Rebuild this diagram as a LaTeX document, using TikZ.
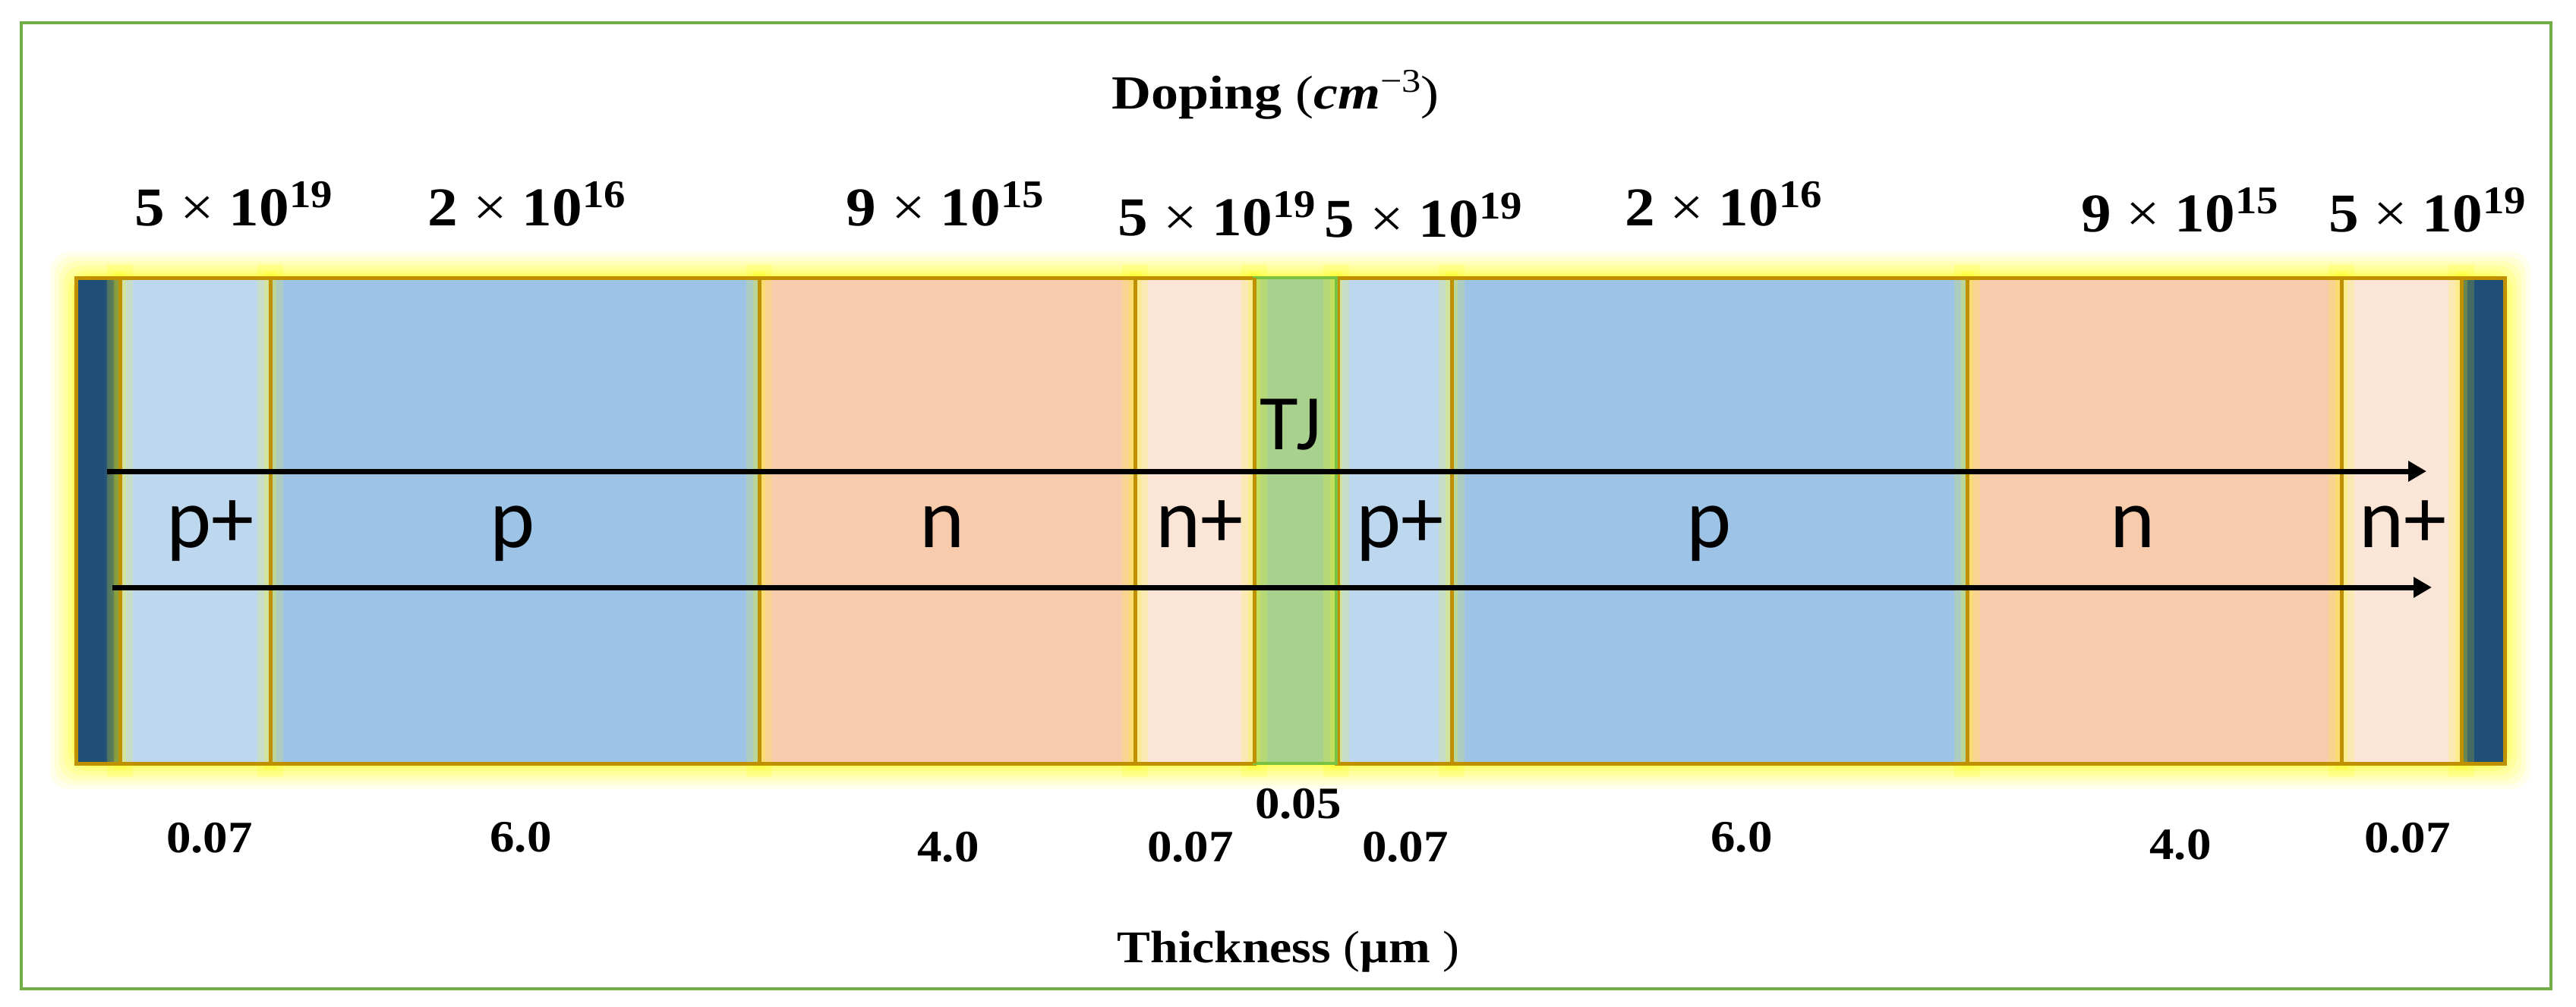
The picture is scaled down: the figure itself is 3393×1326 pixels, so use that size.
\documentclass[tikz,border=0pt]{standalone}
\usepackage{fontspec}
\usepackage{graphicx}
\setmainfont{Liberation Serif}
\newfontfamily\labfont{Carlito}
\usetikzlibrary{arrows.meta}
\definecolor{frameG}{HTML}{70AD47}
\definecolor{darkB}{HTML}{1F4E79}
\definecolor{ppC}{HTML}{BDD7EE}
\definecolor{pC}{HTML}{9DC3E6}
\definecolor{nC}{HTML}{F8CBAD}
\definecolor{npC}{HTML}{FBE5D6}
\definecolor{tjC}{HTML}{A9D18E}
\definecolor{goldC}{HTML}{BF9000}
\definecolor{glowC}{HTML}{FFFF00}
\definecolor{tjLine}{HTML}{7CC242}
\definecolor{contEdge}{HTML}{55765E}
\newcommand{\dop}[2]{\scalebox{1.1}[1]{#1 {\mdseries ×} 10\raisebox{6.8pt}{\fontsize{14.7}{15}\selectfont #2}}}
\begin{document}
\begin{tikzpicture}[x=0.1mm,y=-0.1mm,
  layer/.style={inner sep=0pt, outer sep=0pt, anchor=north west, minimum height=64.0mm},
  goldline/.style={draw=goldC, line width=0.5mm},
  flowarrow/.style={line width=0.7mm, -{Triangle[length=2.4mm,width=2.6mm]}},
  lab/.style={anchor=base, inner sep=0pt, font=\labfont\fontsize{32}{34}\selectfont},
  tjlab/.style={anchor=base, inner sep=0pt, font=\labfont\fontsize{29.5}{31}\selectfont},
  dv/.style={anchor=base, inner sep=0pt, font=\bfseries\fontsize{20.5}{22}\selectfont},
  tv/.style={anchor=base, inner sep=0pt, font=\bfseries\fontsize{16.8}{18}\selectfont},
  ttl/.style={anchor=base, inner sep=0pt, font=\fontsize{16.8}{18}\selectfont},
]
\useasboundingbox (0,0) rectangle (3393,1326);
\fill[white] (0,0) rectangle (3393,1326);
% frame
\draw[frameG, line width=0.35mm] (28,30) rectangle (3360,1303);

% outer glow
\foreach \e/\o in {34/0.08,28/0.10,22/0.12,16/0.14,10/0.18,5/0.22}{
  \fill[glowC, opacity=\o, rounded corners=2.5mm] ({100-\e},{366-\e}) rectangle ({3299+\e},{1006+\e});
}

% layers (fills)
\newcommand{\lay}[4]{\node[layer, fill=#4, minimum width={(#3-#2)*0.1mm}] (#1) at (#2,366) {};}
\lay{contL}{100}{158}{darkB}
\lay{ppA}{158}{356}{ppC}
\lay{pA}{356}{1000}{pC}
\lay{nA}{1000}{1495}{nC}
\lay{npA}{1495}{1652}{npC}
\lay{tj}{1652}{1760}{tjC}
\lay{ppB}{1760}{1912}{ppC}
\lay{pB}{1912}{2591}{pC}
\lay{nB}{2591}{3084}{nC}
\lay{npB}{3084}{3242}{npC}
\lay{contR}{3242}{3299}{darkB}
\shade[left color=darkB, right color=contEdge] (136,366) rectangle (156,1006);

% inner glow near boundaries
\foreach \b in {158,356,1000,1495,1652,1760,1912,2591,3084,3242}{
  \fill[glowC, opacity=0.16] ({\b-17},348) rectangle ({\b+17},1024);
  \fill[glowC, opacity=0.20] ({\b-8},358) rectangle ({\b+8},1014);
}

% borders
\foreach \n in {contL,ppA,pA,nA,npA,ppB,pB,nB,npB,contR}{
  \draw[goldline] (\n.north west) rectangle (\n.south east);
}
\draw[draw=tjLine, line width=0.45mm] (tj.north west) rectangle (tj.south east);
\draw[goldline] (tj.north west) -- (tj.south west);
\draw[draw=goldC, line width=0.3mm] ([xshift=0.35mm]tj.north east) -- ([xshift=0.35mm]tj.south east);

% arrows
\coordinate (a1s) at (141,621);
\coordinate (a1e) at (3196,621);
\coordinate (a2s) at (148,774);
\coordinate (a2e) at (3203,774);
\draw[flowarrow] (a1s) -- (a1e);
\draw[flowarrow] (a2s) -- (a2e);

% layer labels
\node[lab] (lppA) at (277,721) {p+};
\node[lab] (lpA) at (675,721) {p};
\node[lab] (lnA) at (1241,721) {n};
\node[lab] (lnpA) at (1580,721) {n+};
\node[tjlab] (ltj) at (1700,592) {TJ};
\node[lab] (lppB) at (1844,721) {p+};
\node[lab] (lpB) at (2251,721) {p};
\node[lab] (lnB) at (2809,721) {n};
\node[lab] (lnpB) at (3165,721) {n+};

% titles
\node[ttl] (doping) at (1680,143) {\scalebox{1.15}[1]{\bfseries\fontsize{17.8}{19}\selectfont Doping {\mdseries(}\textit{cm}{\mdseries\raisebox{6pt}{\fontsize{12.5}{13}\selectfont −3})}}};
\node[ttl] (thick) at (1697,1268) {\scalebox{1.1}[1]{\bfseries\fontsize{17}{18}\selectfont Thickness {\mdseries(}µm {\mdseries)}}};

% doping values
\node[dv] (d1) at (308,297) {\dop{5}{19}};
\node[dv] (d2) at (694,297) {\dop{2}{16}};
\node[dv] (d3) at (1245,297) {\dop{9}{15}};
\node[dv] (d4) at (1603,310) {\dop{5}{19}};
\node[dv] (d5) at (1875,312) {\dop{5}{19}};
\node[dv] (d6) at (2270,297) {\dop{2}{16}};
\node[dv] (d7) at (2871,305) {\dop{9}{15}};
\node[dv] (d8) at (3197,305) {\dop{5}{19}};

% thickness values
\node[tv] (t1) at (276,1123) {\scalebox{1.1}[1]{0.07}};
\node[tv] (t2) at (686,1122) {\scalebox{1.1}[1]{6.0}};
\node[tv] (t3) at (1249,1135) {\scalebox{1.1}[1]{4.0}};
\node[tv] (t4) at (1568,1135) {\scalebox{1.1}[1]{0.07}};
\node[tv] (t5) at (1710,1078) {\scalebox{1.1}[1]{0.05}};
\node[tv] (t6) at (1851,1135) {\scalebox{1.1}[1]{0.07}};
\node[tv] (t7) at (2294,1122) {\scalebox{1.1}[1]{6.0}};
\node[tv] (t8) at (2872,1132) {\scalebox{1.1}[1]{4.0}};
\node[tv] (t9) at (3171,1123) {\scalebox{1.1}[1]{0.07}};
\end{tikzpicture}
\end{document}
